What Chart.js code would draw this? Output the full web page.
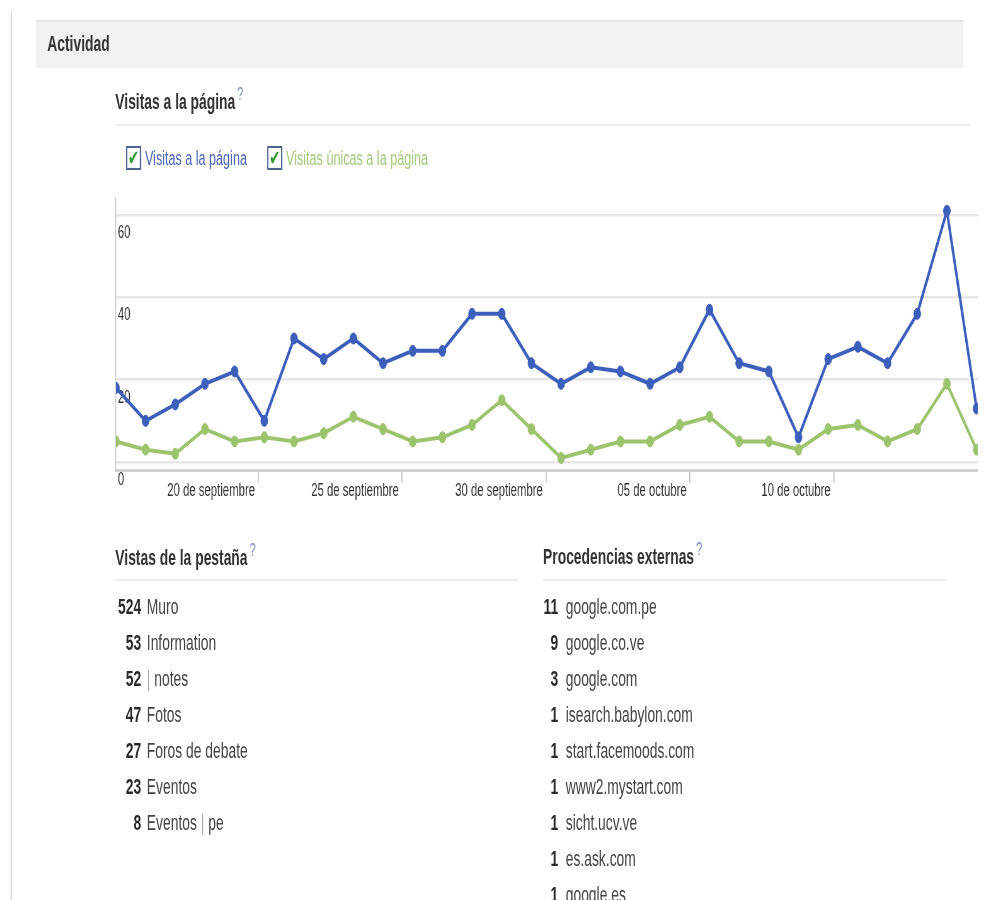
<html>
<head>
<meta charset="utf8">
<title>Actividad</title>
<script src="https://cdn.jsdelivr.net/npm/chart.js@4.4.1/dist/chart.umd.min.js"></script>
<style>
    body { margin:0; background:#fff; width:985px; height:900px; overflow:hidden; font-family:"Liberation Sans", Arial, sans-serif; }
    /* la captura original esta comprimida en horizontal, asi que se dibuja ancho y se encoge */
    #page { position:absolute; left:0; top:0; width:1563px; height:900px; transform:scaleX(0.63); transform-origin:0 0; }
    .abs { position:absolute; white-space:nowrap; }
    .linea { position:absolute; height:2px; background:#ececec; }
    .titulo { font-size:22px; font-weight:bold; color:#333; line-height:30px; }
    .preg { color:#7b8fba; font-size:18px; font-weight:normal; position:relative; top:-9px; margin-left:3px; }
    .caja { position:absolute; top:146px; width:20px; height:20px; border:2px solid #4d6491; background:#fff;
            font-family:"DejaVu Sans"; font-size:21px; font-weight:bold; line-height:21px; text-align:center; color:#2f9c2f; }
    .leyenda { position:absolute; top:143px; font-size:20px; line-height:30px; white-space:nowrap; }
    .num { position:absolute; text-align:right; font-size:22px; font-weight:bold; color:#2b2b2b; line-height:30px; }
    .etq { position:absolute; font-size:22px; color:#444; line-height:30px; white-space:nowrap; }
    .barra { color:#aaa; }
</style>
</head>
<body>
<div id="page">
    <div class="abs" style="left:17px;top:12px;width:2px;height:888px;background:#d8d8d8"></div>
    <div class="abs" style="left:57px;top:20px;width:1472px;height:46px;background:#f2f2f2;border-top:2px solid #e4e4e4"></div>
    <div class="abs titulo" style="left:75px;top:29px">Actividad</div>

    <div class="abs titulo" style="left:183px;top:87px">Visitas a la página<span class="preg">?</span></div>
    <div class="linea" style="left:183px;top:124px;width:1357px"></div>

    <div id="leyenda"></div>

    <div class="abs" style="left:160px;top:190px;width:1403px;height:320px">
        <canvas id="visitasChart" width="1403" height="320"></canvas>
    </div>

    <div class="abs titulo" style="left:183px;top:543px">Vistas de la pestaña<span class="preg">?</span></div>
    <div class="linea" style="left:183px;top:579px;width:640px"></div>
    <div class="abs titulo" style="left:862px;top:542px">Procedencias externas<span class="preg">?</span></div>
    <div class="linea" style="left:862px;top:579px;width:640px"></div>

    <div id="listas"></div>
</div>

<script>
    // datos diarios, 15 de septiembre a 14 de octubre
    var fechas = ['15 sep','16 sep','17 sep','18 sep','19 sep','20 sep','21 sep','22 sep','23 sep','24 sep',
                  '25 sep','26 sep','27 sep','28 sep','29 sep','30 sep','01 oct','02 oct','03 oct','04 oct',
                  '05 oct','06 oct','07 oct','08 oct','09 oct','10 oct','11 oct','12 oct','13 oct','14 oct'];
    var visitas = [18,10,14,19,22,10,30,25,30,24,27,27,36,36,24,19,23,22,19,23,37,24,22,6,25,28,24,36,61,13];
    var unicas  = [5,3,2,8,5,6,5,7,11,8,5,6,9,15,8,1,3,5,5,9,11,5,5,3,8,9,5,8,19,3];

    var series = ['Visitas a la página', 'Visitas únicas a la página'];
    var colores = ['#3c5fbb', '#9cc46d'];
    var coloresTexto = ['#4a66b5', '#a5c97c'];

    // marcas del eje x (posicion en dias desde el primero)
    var etiquetasX = ['20 de septiembre','25 de septiembre','30 de septiembre','05 de octubre','10 de octubre'];
    var posEtiquetasX = [4.79, 9.64, 14.49, 19.34, 24.19];
    var ticksY = [0, 20, 40, 60];

    var pestanas = ['Muro', 'Information', '|notes', 'Fotos', 'Foros de debate', 'Eventos', 'Eventos |pe'];
    var pestanasVistas = [524, 53, 52, 47, 27, 23, 8];
    var procedencias = ['google.com.pe', 'google.co.ve', 'google.com', 'isearch.babylon.com', 'start.facemoods.com',
                        'www2.mystart.com', 'sicht.ucv.ve', 'es.ask.com', 'google.es'];
    var procedenciasN = [11, 9, 3, 1, 1, 1, 1, 1, 1];

    // leyenda html con casillas
    var ley = '';
    var cajaX = [200, 424], textoX = [230, 454];
    for (var i = 0; i < series.length; i++) {
        ley += '<div class="caja" style="left:' + cajaX[i] + 'px">&#10004;</div>';
        ley += '<div class="leyenda" style="left:' + textoX[i] + 'px;color:' + coloresTexto[i] + '">' + series[i] + '</div>';
    }
    document.getElementById('leyenda').innerHTML = ley;

    function conBarra(t) {
        return t.replace('|', '<span class="barra">| </span>');
    }
    var html = '';
    for (var i = 0; i < pestanas.length; i++) {
        var fila = 592 + i * 36;
        html += '<div class="num" style="left:140px;width:84px;top:' + fila + 'px">' + pestanasVistas[i] + '</div>';
        html += '<div class="etq" style="left:233px;top:' + fila + 'px">' + conBarra(pestanas[i]) + '</div>';
    }
    for (var i = 0; i < procedencias.length; i++) {
        var fila = 592 + i * 36;
        html += '<div class="num" style="left:800px;width:86px;top:' + fila + 'px">' + procedenciasN[i] + '</div>';
        html += '<div class="etq" style="left:898px;top:' + fila + 'px">' + procedencias[i] + '</div>';
    }
    document.getElementById('listas').innerHTML = html;

    function puntos(valores) {
        return valores.map(function (v, i) { return {x: i, y: v, fecha: fechas[i]}; });
    }

    new Chart(document.getElementById('visitasChart'), {
        type: 'line',
        data: {
            datasets: [{
                label: series[0],
                data: puntos(visitas),
                borderColor: colores[0],
                backgroundColor: colores[0],
                borderWidth: 4,
                pointRadius: 5.5,
                pointBorderWidth: 1,
                tension: 0,
                clip: 0
            },
            {
                label: series[1],
                data: puntos(unicas),
                borderColor: colores[1],
                backgroundColor: colores[1],
                borderWidth: 4,
                pointRadius: 5.5,
                pointBorderWidth: 1,
                tension: 0,
                clip: 0
            }]
        },
        options: {
            responsive: false,
            animation: false,
            layout: { padding: { left: 24, right: 11, top: 8, bottom: 0 } },
            plugins: { legend: { display: false }, tooltip: { enabled: false } },
            scales: {
                x: {
                    type: 'linear',
                    min: 0,
                    max: 29.04,
                    afterBuildTicks: function (axis) {
                        axis.ticks = posEtiquetasX.map(function (v) { return {value: v}; });
                    },
                    afterFit: function (axis) { axis.height = 40; axis.paddingLeft = 0; axis.paddingRight = 0; },
                    grid: { drawOnChartArea: false, drawTicks: true, tickLength: 13, color: '#bbb', lineWidth: 1.6 },
                    border: { color: '#d2d2d2', width: 3 },
                    ticks: {
                        callback: function (v, i) { return etiquetasX[i]; },
                        align: 'end',
                        labelOffset: -5,
                        padding: -3,
                        maxRotation: 0,
                        autoSkip: false,
                        color: '#333',
                        font: { family: 'Liberation Sans', size: 18 }
                    }
                },
                y: {
                    min: -1.94,
                    max: 64.13,
                    afterBuildTicks: function (axis) {
                        axis.ticks = ticksY.map(function (v) { return {value: v}; });
                    },
                    afterFit: function (axis) { axis.width = 0; axis.paddingTop = 0; axis.paddingBottom = 0; },
                    grid: { color: '#e6e6e6', lineWidth: 2.5, drawTicks: false },
                    border: { color: '#cccccc', width: 1.5 },
                    ticks: {
                        mirror: true,
                        padding: 3,
                        labelOffset: 18,
                        color: '#333',
                        font: { family: 'Liberation Sans', size: 18 }
                    }
                }
            }
        }
    });
</script>
</body>
</html>
